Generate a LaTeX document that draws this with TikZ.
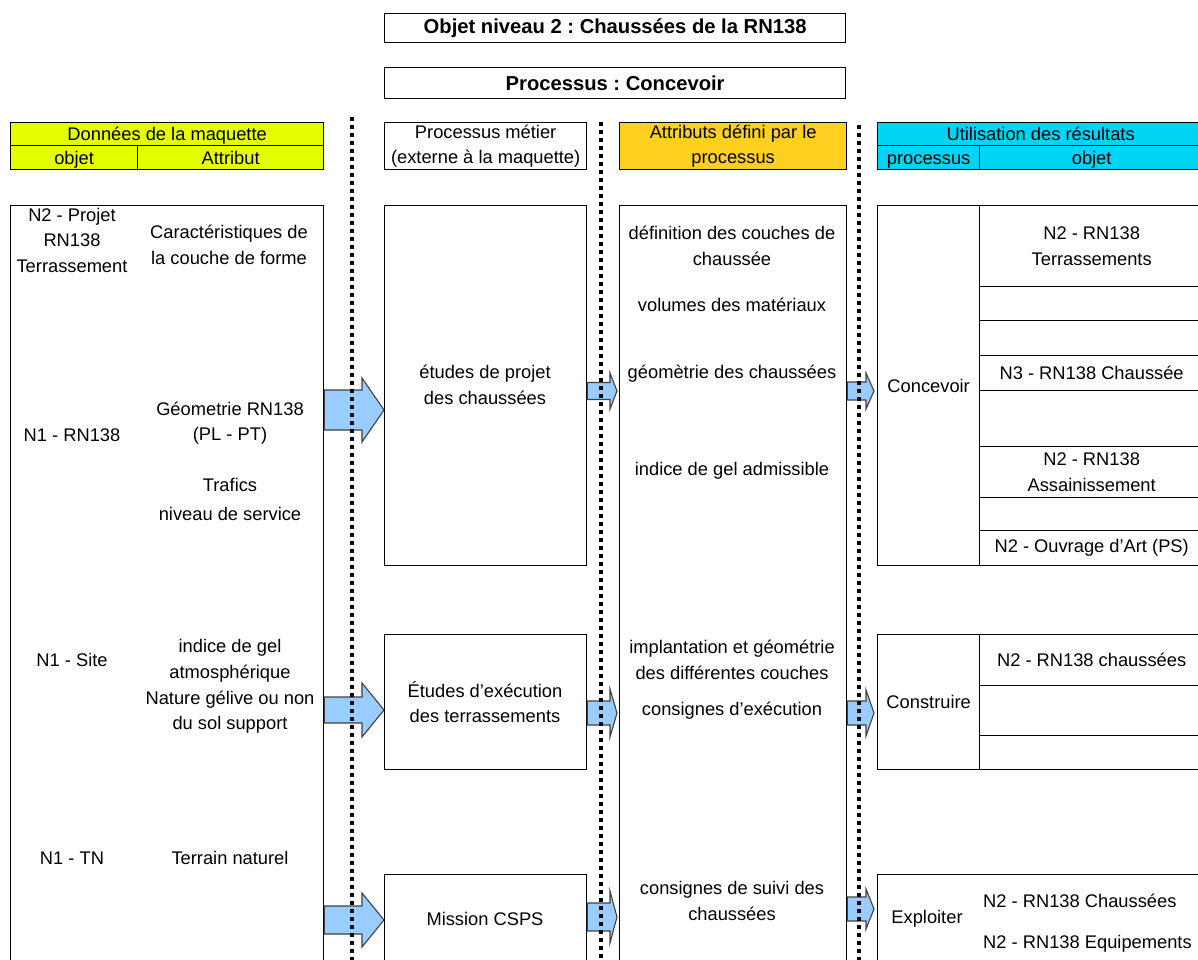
\documentclass[tikz,border=0pt]{standalone}
\usepackage{fontspec}
\setmainfont{Liberation Sans}
\usetikzlibrary{calc}
\definecolor{datayellow}{RGB}{230,255,0}
\definecolor{attrorange}{RGB}{255,208,32}
\definecolor{usecyan}{RGB}{0,212,245}
\definecolor{arrowblue}{RGB}{153,204,255}
\frenchspacing

% block arrow between two named boxes:
% #1 source, #2 target, #3 y of axis, #4 shaft half width, #5 head half width,
% #6 head length, #7 gap before the tip
\newcommand{\blockarrow}[7]{%
  \coordinate (s) at (#1.east |- 0,#3);
  \coordinate (t) at ($(#2.west |- 0,#3)+(-#7,0)$);
  \draw[flow] ($(s)+(0,-#4)$) -- ($(t)+(-#6,-#4)$) -- ($(t)+(-#6,-#5)$) -- (t)
    -- ($(t)+(-#6,#5)$) -- ($(t)+(-#6,#4)$) -- ($(s)+(0,#4)$) -- cycle;}

\begin{document}
\begin{tikzpicture}[x=1pt,y=-1pt,
  font=\fontsize{18.3}{25.5}\selectfont,
  box/.style={draw, line width=1.3pt, inner sep=0pt, anchor=north west, align=center},
  cellrow/.style={text height=14pt, text depth=1pt},
  txt/.style={align=center, inner sep=0pt},
  heading/.style={font=\fontsize{20.2}{24}\selectfont\bfseries},
  sepline/.style={line width=4pt, dash pattern=on 4pt off 4pt},
  flow/.style={draw=black!75, fill=arrowblue, line width=1.1pt, line join=miter}]

\useasboundingbox (0,0) rectangle (1198,960);
\clip (0,0) rectangle (1198,960);

% titles
\node[box, heading, minimum width=461, minimum height=29] (title) at (384,13) {Objet niveau 2 : Chaussées de la RN138};
\node[box, heading, minimum width=461, minimum height=31] (proc) at (384,67) {Processus : Concevoir};

% column headers
\node[box, cellrow, fill=datayellow, minimum width=313, minimum height=23] (dhead) at (10,122) {Données de la maquette};
\node[box, cellrow, fill=datayellow, minimum width=127, minimum height=24] (dobj) at (10,145) {objet};
\node[box, cellrow, fill=datayellow, minimum width=186, minimum height=24] (dattr) at (137,145) {Attribut};
\node[box, minimum width=202, minimum height=47] (phead) at (384,122) {Processus métier\\(externe à la maquette)};
\node[box, fill=attrorange, minimum width=227, minimum height=47] (ahead) at (619,122) {Attributs défini par le\\processus};
\node[box, cellrow, fill=usecyan, minimum width=326, minimum height=23] (uhead) at (877,122) {Utilisation des résultats};
\node[box, cellrow, fill=usecyan, minimum width=102, minimum height=24] (uproc) at (877,145) {processus};
\node[box, cellrow, fill=usecyan, minimum width=224, minimum height=24] (uobj) at (979,145) {objet};

% data column
\node[box, minimum width=313, minimum height=780] (data) at (10,205) {};
\node[txt] (o1) at (72,240) {N2 - Projet\\RN138\\Terrassement};
\node[txt] (a1) at (229,245) {Caractéristiques de\\la couche de forme};
\node[txt] (o2) at (72,435) {N1 - RN138};
\node[txt] (a2) at (230,423) {Géometrie RN138\\(PL - PT)};
\node[txt] (a3) at (230,485) {Trafics};
\node[txt] (a4) at (230,514) {niveau de service};
\node[txt] (o3) at (72,660) {N1 - Site};
\node[txt] (a5) at (230,661) {indice de gel\\atmosphérique};
\node[txt] (a6) at (230,712) {Nature gélive ou non\\du sol support};
\node[txt] (o4) at (72,858) {N1 - TN};
\node[txt] (a7) at (230,858) {Terrain naturel};

% business processes
\node[box, minimum width=202, minimum height=360] (etudes) at (384,205) {};
\node[txt] at (485,385) {études de projet\\des chaussées};
\node[box, minimum width=202, minimum height=135] (exec) at (384,634) {};
\node[txt] at (485,702) {Études d'exécution\\des terrassements};
\node[box, minimum width=202, minimum height=110] (csps) at (384,874) {};
\node[txt] at (485,919) {Mission CSPS};

% attributes defined by the process
\node[box, minimum width=227, minimum height=780] (attr) at (619,205) {};
\node[txt] at (732,246) {définition des couches de\\chaussée};
\node[txt] at (732,305) {volumes des matériaux};
\node[txt] at (732,374) {géomètrie des chaussées};
\node[txt] at (732,471) {indice de gel admissible};
\node[txt] at (732,660) {implantation et géométrie\\des différentes couches};
\node[txt] at (732,711) {consignes d'exécution};
\node[txt] at (732,901) {consignes de suivi des\\chaussées};

% use of results: design
\node[box, minimum width=102, minimum height=360] (concevoir) at (877,205) {Concevoir};
\node[box, minimum width=224, minimum height=81] (c1) at (979,205) {N2 - RN138\\Terrassements};
\node[box, minimum width=224, minimum height=34] (c2) at (979,286) {};
\node[box, minimum width=224, minimum height=35] (c3) at (979,320) {};
\node[box, minimum width=224, minimum height=35] (c4) at (979,355) {N3 - RN138 Chaussée};
\node[box, minimum width=224, minimum height=56] (c5) at (979,390) {};
\node[box, minimum width=224, minimum height=51] (c6) at (979,446) {N2 - RN138\\Assainissement};
\node[box, minimum width=224, minimum height=33] (c7) at (979,497) {};
\node[box, minimum width=224, minimum height=35] (c8) at (979,530) {N2 - Ouvrage d'Art (PS)};

% use of results: construction
\node[box, minimum width=102, minimum height=135] (construire) at (877,634) {Construire};
\node[box, minimum width=224, minimum height=51] (k1) at (979,634) {N2 - RN138 chaussées};
\node[box, minimum width=224, minimum height=50] (k2) at (979,685) {};
\node[box, minimum width=224, minimum height=34] (k3) at (979,735) {};

% use of results: operation
\node[box, minimum width=330, minimum height=110] (exploiter) at (877,874) {};
\node[txt] at (927,919) {Exploiter};
\node[txt, anchor=west] at (983,901) {N2 - RN138 Chaussées};
\node[txt, anchor=west] at (983,944) {N2 - RN138 Equipements};

% flows
\blockarrow{data}{etudes}{410}{20}{32}{22}{0}
\blockarrow{data}{exec}{710}{13}{27}{22}{0}
\blockarrow{data}{csps}{920}{14}{27}{22}{0}
\blockarrow{etudes}{attr}{391}{8.5}{18}{7}{2}
\blockarrow{exec}{attr}{713}{12}{24}{7}{2}
\blockarrow{csps}{attr}{917}{14}{26}{7}{2}
\blockarrow{attr}{concevoir}{391}{9}{18}{8}{3}
\blockarrow{attr}{construire}{713}{12}{23}{8}{3}
\blockarrow{attr}{exploiter}{909}{12}{20}{8}{3}

% dotted column separators
\draw[sepline] (352,117) -- (352,965);
\draw[sepline] (601,122) -- (601,965);
\draw[sepline] (859,125) -- (859,965);
\end{tikzpicture}
\end{document}
